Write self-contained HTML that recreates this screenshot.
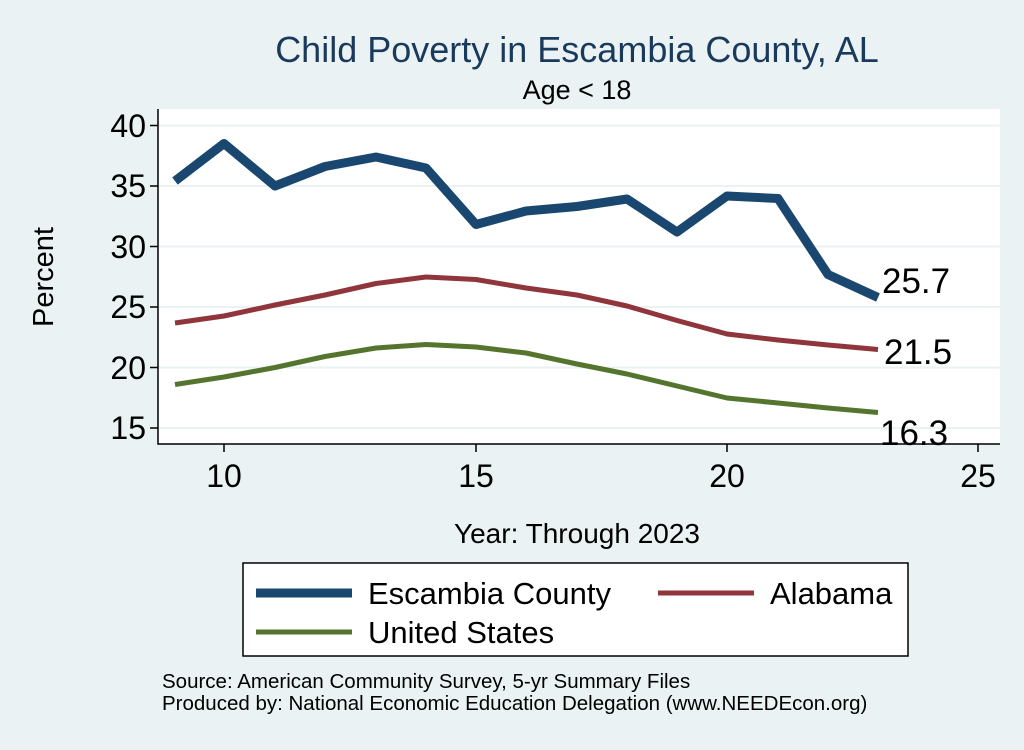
<!DOCTYPE html>
<html><head><style>body{margin:0;background:#eaf2f3}</style></head><body>
<svg width="1024" height="745" xmlns="http://www.w3.org/2000/svg" font-family="Liberation Sans, sans-serif">
<rect width="1024" height="745" fill="#eaf2f3"/>
<rect x="158" y="109" width="842" height="335" fill="#fff"/>
<g stroke="#eaf2f3" stroke-width="2">
<line x1="158" x2="1000" y1="125.5" y2="125.5"/><line x1="158" x2="1000" y1="186" y2="186"/>
<line x1="158" x2="1000" y1="246.5" y2="246.5"/><line x1="158" x2="1000" y1="307" y2="307"/>
<line x1="158" x2="1000" y1="367.5" y2="367.5"/><line x1="158" x2="1000" y1="428" y2="428"/>
</g>
<g stroke="#000" stroke-width="1.5" fill="none">
<path d="M158 109V444H1000"/>
<path d="M150 125.5h8M150 186h8M150 246.5h8M150 307h8M150 367.5h8M150 428h8"/>
<path d="M224 444v8M476 444v8M727 444v8M978 444v8"/>
</g>
<g font-size="32" text-anchor="end" fill="#000">
<text x="146" y="137">40</text><text x="146" y="197">35</text><text x="146" y="258">30</text>
<text x="146" y="318">25</text><text x="146" y="379">20</text><text x="146" y="439">15</text>
</g>
<g font-size="32" text-anchor="middle">
<text x="224" y="487">10</text><text x="476" y="487">15</text><text x="727" y="487">20</text><text x="978" y="487">25</text>
</g>
<text x="577" y="62" font-size="36" fill="#1a3a5c" text-anchor="middle">Child Poverty in Escambia County, AL</text>
<text x="577" y="99" font-size="27" text-anchor="middle">Age &lt; 18</text>
<text x="577" y="543" font-size="28" text-anchor="middle">Year: Through 2023</text>
<text transform="translate(53,277) rotate(-90)" font-size="29" text-anchor="middle">Percent</text>
<g fill="none" stroke-linejoin="round">
<polyline stroke="#1a476f" stroke-width="9" points="175,181 224,143.5 275,186 325,166.5 376,157 426,168 476,224.5 526,211 577,206.5 627,199 677,232 727,196 778,198.5 828,274.5 878,297.5"/>
<polyline stroke="#90353b" stroke-width="5" points="175,323 224,316 275,305 325,295 376,283.5 426,277 476,279.5 526,288 577,295 627,306 677,320.5 727,334 778,340 828,345 878,349.5"/>
<polyline stroke="#55752f" stroke-width="5" points="175,384.5 224,377 275,367.5 325,356.5 376,348 426,344.5 476,347 526,353 577,364 627,374 677,386 727,398 778,403 828,408 878,412.5"/>
</g>
<g font-size="35">
<text x="882" y="293">25.7</text><text x="884" y="364">21.5</text><text x="880" y="445">16.3</text>
</g>
<rect x="243" y="563" width="665" height="93" fill="#fff" stroke="#000" stroke-width="1.5"/>
<line x1="256" x2="352" y1="593" y2="593" stroke="#1a476f" stroke-width="9"/>
<line x1="658" x2="754" y1="593" y2="593" stroke="#90353b" stroke-width="5"/>
<line x1="256" x2="352" y1="632" y2="632" stroke="#55752f" stroke-width="5"/>
<g font-size="31"><text x="368" y="604">Escambia County</text><text x="770" y="604">Alabama</text><text x="368" y="643">United States</text></g>
<g font-size="20.5"><text x="162" y="688">Source: American Community Survey, 5-yr Summary Files</text>
<text x="162" y="710">Produced by: National Economic Education Delegation (www.NEEDEcon.org)</text></g>
</svg>
</body></html>
